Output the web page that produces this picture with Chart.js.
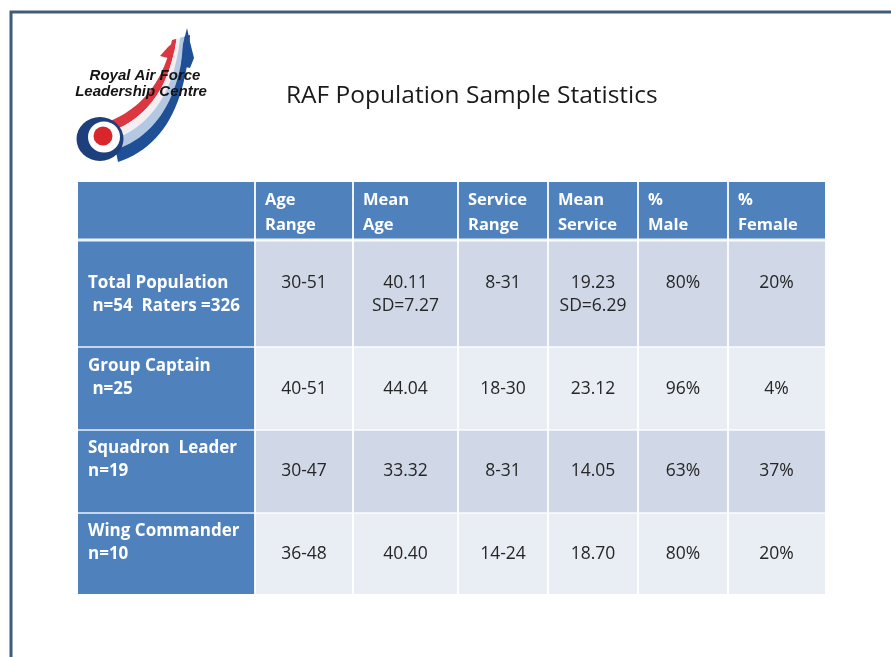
<!DOCTYPE html>
<html lang="en">
<head>
<meta charset="UTF-8">
<title>RAF Population Sample Statistics</title>
<script src="https://cdn.jsdelivr.net/npm/chart.js"></script>
<style>
  body { margin: 0; background: #ffffff; }
  #wrap { width: 891px; height: 657px; }
</style>
</head>
<body>
<div id="wrap"><canvas id="tableChart" width="891" height="657"></canvas></div>
<script>
// ---- table content ----
const headerLines = [['Age', 'Range'], ['Mean', 'Age'], ['Service', 'Range'], ['Mean', 'Service'], ['%', 'Male'], ['%', 'Female']];
const rowLabels = [['Total Population', ' n=54  Raters =326'], ['Group Captain', ' n=25'], ['Squadron  Leader', 'n=19'], ['Wing Commander', 'n=10']];
const ageRange = ['30-51', '40-51', '30-47', '36-48'];
const meanAge = [40.11, 44.04, 33.32, 40.40];
const meanAgeSD = [7.27, null, null, null];
const serviceRange = ['8-31', '18-30', '8-31', '14-24'];
const meanService = [19.23, 23.12, 14.05, 18.70];
const meanServiceSD = [6.29, null, null, null];
const pctMale = [80, 96, 63, 80];
const pctFemale = [20, 4, 37, 20];

// ---- layout (scale units == px) ----
const colWidths = [177, 98, 105, 90, 90, 90, 97];
const rowHeights = [58, 107, 83, 83, 81];

function withSD(vals, sds) {
    return vals.map((v, i) => sds[i] != null ? [v.toFixed(2), 'SD=' + sds[i].toFixed(2)] : [v.toFixed(2)]);
}
// every data column as lists of text lines per row
const bodyColumns = [
    ageRange.map(s => [s]),
    withSD(meanAge, meanAgeSD),
    serviceRange.map(s => [s]),
    withSD(meanService, meanServiceSD),
    pctMale.map(v => [v + '%']),
    pctFemale.map(v => [v + '%'])
];

const edges = arr => arr.reduce((acc, w) => { acc.push(acc[acc.length - 1] + w); return acc; }, [0]);
const colEdges = edges(colWidths);
const rowEdges = edges(rowHeights);

const BLUE = '#4f81bd';
const BAND_DARK = '#d0d8e8';
const BAND_LIGHT = '#e9edf4';
const FONT = '"Open Sans", "DejaVu Sans", sans-serif';

// first text line offset inside each body row, and where values start (line index)
const labelTop = [43, 19, 18, 18];
const valueLine = [0, 1, 1, 1];
const LINE = 23.5;

const tablePlugin = {
    id: 'tablePlugin',
    afterDatasetsDraw(chart) {
        const ctx = chart.ctx;
        const xs = chart.scales.x, ys = chart.scales.y;
        const px = v => xs.getPixelForValue(v);
        const py = v => ys.getPixelForValue(v);

        // cells
        for (let r = 0; r < rowHeights.length; r++) {
            for (let c = 0; c < colWidths.length; c++) {
                let fill = BLUE;
                if (r > 0 && c > 0) fill = (r % 2 === 1) ? BAND_DARK : BAND_LIGHT;
                ctx.fillStyle = fill;
                ctx.fillRect(px(colEdges[c]), py(rowEdges[r]), px(colEdges[c + 1]) - px(colEdges[c]), py(rowEdges[r + 1]) - py(rowEdges[r]));
            }
        }

        // separators
        ctx.save();
        ctx.strokeStyle = 'rgba(255,255,255,0.9)';
        for (let c = 1; c < colWidths.length; c++) {
            ctx.lineWidth = 2;
            ctx.beginPath();
            ctx.moveTo(px(colEdges[c]), py(0));
            ctx.lineTo(px(colEdges[c]), py(rowEdges[rowEdges.length - 1]));
            ctx.stroke();
        }
        for (let r = 1; r < rowHeights.length; r++) {
            ctx.lineWidth = r === 1 ? 3 : 1.5;
            ctx.beginPath();
            ctx.moveTo(px(0), py(rowEdges[r]));
            ctx.lineTo(px(colEdges[colEdges.length - 1]), py(rowEdges[r]));
            ctx.stroke();
        }
        ctx.restore();

        ctx.save();
        ctx.textBaseline = 'middle';
        // header text
        ctx.fillStyle = '#ffffff';
        ctx.font = 'bold 16.5px ' + FONT;
        ctx.textAlign = 'left';
        headerLines.forEach((lines, i) => {
            const x0 = px(colEdges[i + 1]) + 10;
            lines.forEach((t, k) => ctx.fillText(t, x0, py(0) + 18 + k * 25));
        });

        // row labels + values
        rowLabels.forEach((lines, i) => {
            const top = py(rowEdges[i + 1]) + labelTop[i];
            ctx.fillStyle = '#ffffff';
            ctx.font = 'bold 17px ' + FONT;
            ctx.textAlign = 'left';
            lines.forEach((t, k) => ctx.fillText(t, px(0) + 10, top + k * LINE));

            ctx.fillStyle = '#262626';
            ctx.font = '17.5px ' + FONT;
            ctx.textAlign = 'center';
            bodyColumns.forEach((col, c) => {
                const cx = (px(colEdges[c + 1]) + px(colEdges[c + 2])) / 2;
                col[i].forEach((t, k) => ctx.fillText(t, cx, top + (valueLine[i] + k) * LINE));
            });
        });
        ctx.restore();
    }
};

// slide frame, title and logo
function quad(p0, p1, p2, t) {
    const u = 1 - t;
    return [u * u * p0[0] + 2 * u * t * p1[0] + t * t * p2[0], u * u * p0[1] + 2 * u * t * p1[1] + t * t * p2[1]];
}

const slidePlugin = {
    id: 'slidePlugin',
    beforeDraw(chart) {
        const ctx = chart.ctx;
        ctx.save();
        ctx.fillStyle = '#ffffff';
        ctx.fillRect(0, 0, chart.width, chart.height);

        // frame
        ctx.strokeStyle = '#3e5b7b';
        ctx.lineWidth = 3;
        ctx.beginPath();
        ctx.moveTo(11, 657);
        ctx.lineTo(11, 12);
        ctx.lineTo(891, 12);
        ctx.stroke();

        // title
        ctx.fillStyle = '#1a1a1a';
        ctx.font = '24.5px ' + FONT;
        ctx.textBaseline = 'middle';
        ctx.textAlign = 'left';
        ctx.fillText('RAF Population Sample Statistics', 286, 96);

        // logo swoosh
        const L = [[110, 121], [160, 100], [172, 40]];
        const R = [[118, 162], [185, 140], [190, 35]];
        const stripes = [[0, 0.25, '#dc3640'], [0.25, 0.45, '#f3eef2'], [0.45, 0.7, '#b4c8e4'], [0.7, 1, '#1f4f95']];
        stripes.forEach(([f0, f1, col]) => {
            ctx.fillStyle = col;
            ctx.beginPath();
            for (let s = 0; s <= 24; s++) {
                const t = s / 24, a = quad(L[0], L[1], L[2], t), b = quad(R[0], R[1], R[2], t);
                const p = [a[0] + (b[0] - a[0]) * f0, a[1] + (b[1] - a[1]) * f0];
                s === 0 ? ctx.moveTo(p[0], p[1]) : ctx.lineTo(p[0], p[1]);
            }
            for (let s = 24; s >= 0; s--) {
                const t = s / 24, a = quad(L[0], L[1], L[2], t), b = quad(R[0], R[1], R[2], t);
                ctx.lineTo(a[0] + (b[0] - a[0]) * f1, a[1] + (b[1] - a[1]) * f1);
            }
            ctx.closePath();
            ctx.fill();
        });
        // jet silhouettes at the tip
        ctx.fillStyle = '#1f4f95';
        ctx.beginPath();
        ctx.moveTo(187, 28); ctx.lineTo(190, 42); ctx.lineTo(194, 58); ctx.lineTo(190, 68); ctx.lineTo(181, 66); ctx.lineTo(183, 44);
        ctx.closePath(); ctx.fill();
        ctx.fillStyle = '#dc3640';
        ctx.beginPath();
        ctx.moveTo(176, 40); ctx.lineTo(168, 47); ctx.lineTo(160, 56); ctx.lineTo(168, 58); ctx.lineTo(174, 52);
        ctx.closePath(); ctx.fill();

        // roundel
        ctx.fillStyle = '#1d3f7c';
        ctx.beginPath(); ctx.ellipse(100, 139, 23.5, 22, 0, 0, Math.PI * 2); ctx.fill();
        ctx.fillStyle = '#ffffff';
        ctx.beginPath(); ctx.ellipse(104, 137, 16, 15.5, 0, 0, Math.PI * 2); ctx.fill();
        ctx.fillStyle = '#d9262c';
        ctx.beginPath(); ctx.arc(103, 136, 9.5, 0, Math.PI * 2); ctx.fill();

        // logo text
        ctx.fillStyle = '#141414';
        ctx.font = 'italic bold 15px "Liberation Sans", Arial, sans-serif';
        ctx.textAlign = 'center';
        ctx.fillText('Royal Air Force', 145, 76);
        ctx.fillText('Leadership Centre', 141, 92);
        ctx.restore();
    }
};

const totalW = colEdges[colEdges.length - 1];
const totalH = rowEdges[rowEdges.length - 1];

new Chart(document.getElementById('tableChart'), {
    type: 'scatter',
    data: { datasets: [{ data: [], pointRadius: 0 }] },
    options: {
        responsive: false,
        animation: false,
        events: [],
        layout: { padding: { left: 78, right: 891 - 78 - totalW, top: 182, bottom: 657 - 182 - totalH } },
        plugins: { legend: { display: false }, tooltip: { enabled: false }, title: { display: false } },
        scales: {
            x: { type: 'linear', min: 0, max: totalW, display: false },
            y: { type: 'linear', min: 0, max: totalH, reverse: true, display: false }
        }
    },
    plugins: [slidePlugin, tablePlugin]
});
</script>
</body>
</html>
